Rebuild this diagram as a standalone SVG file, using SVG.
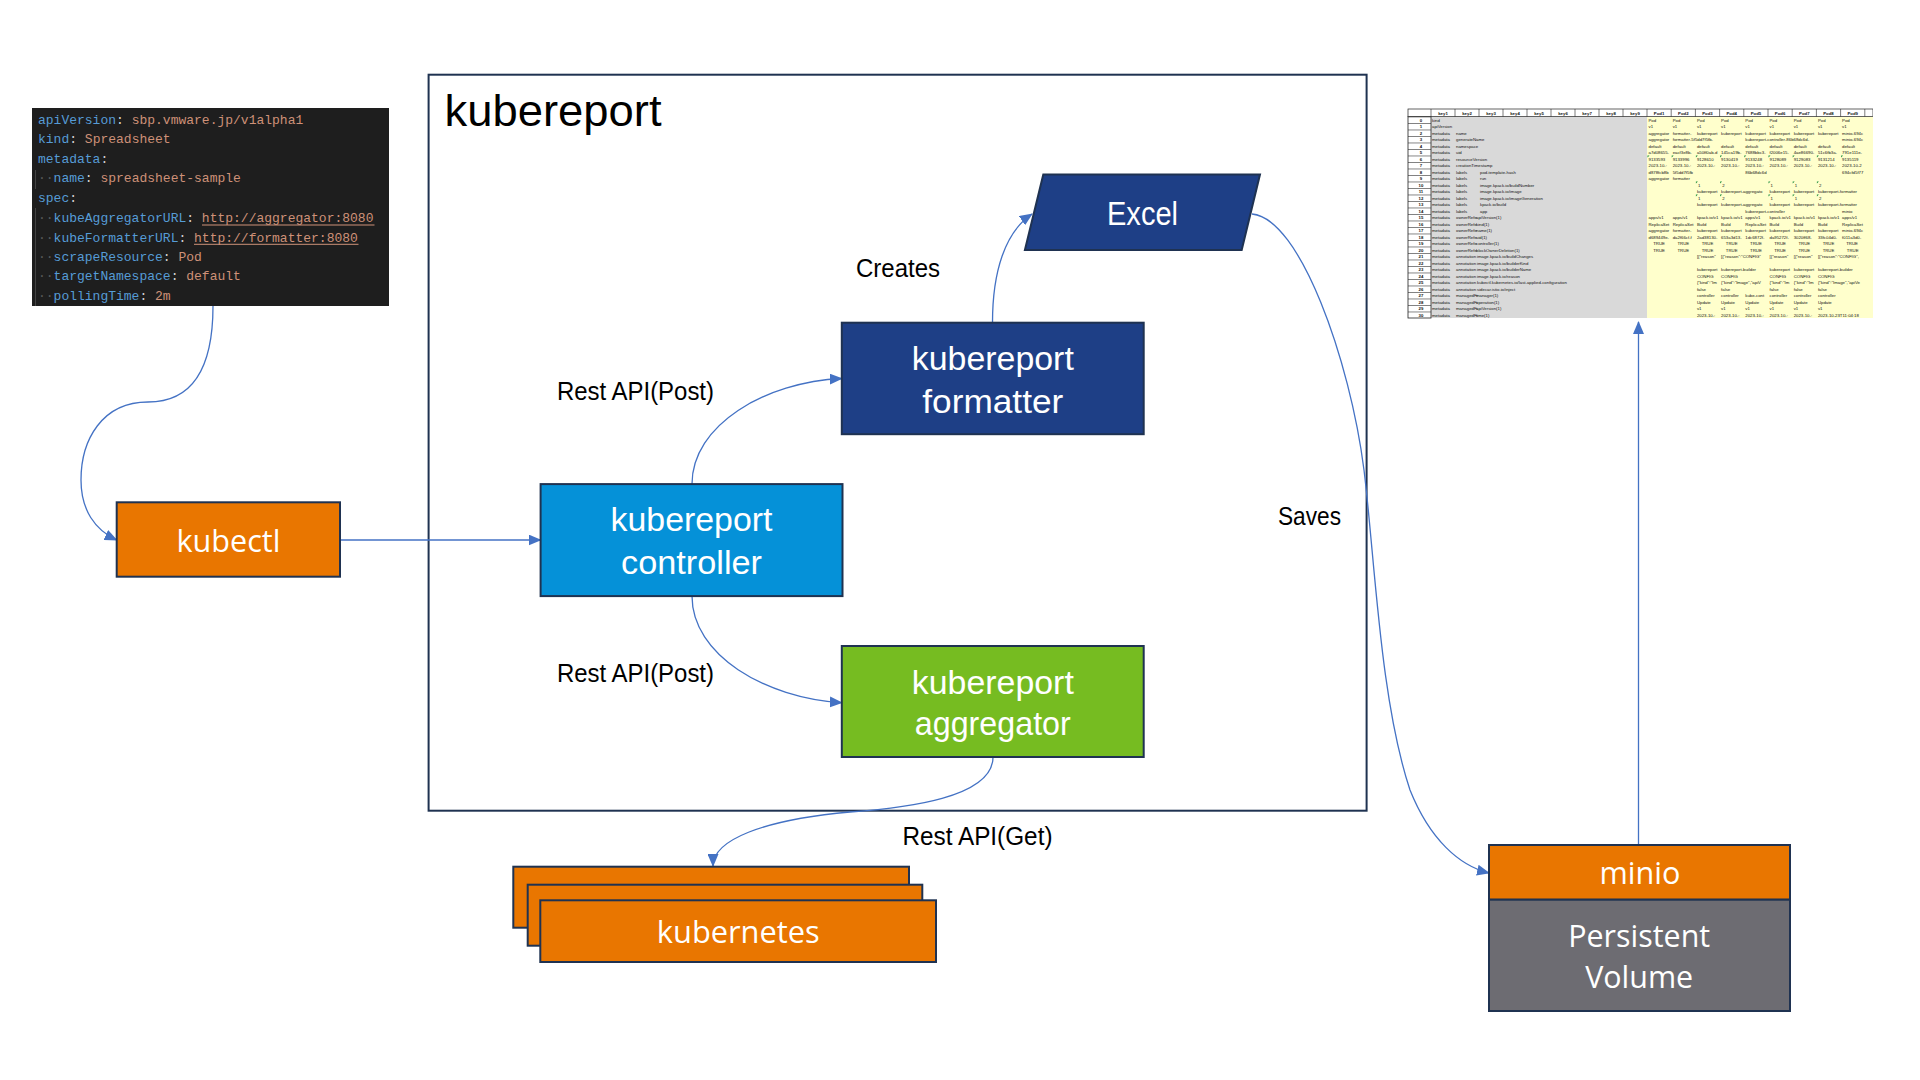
<svg xmlns="http://www.w3.org/2000/svg" width="1920" height="1080" viewBox="0 0 1920 1080">
<style>
.bg{fill:#ffffff}
.nd{stroke:#1F3251;stroke-width:2}
.wt{fill:#ffffff;font-family:"Liberation Sans",Arial,sans-serif;font-size:33px;text-anchor:middle}
.ws{fill:#ffffff;font-family:"Open Sans","Noto Sans",sans-serif;font-size:31px;text-anchor:middle}
.lb{fill:#000000;font-family:"Liberation Sans",Arial,sans-serif;font-size:25px}
.cn{fill:none;stroke:#4472C4;stroke-width:1.3}
.ym{font-family:"Liberation Mono","DejaVu Sans Mono",monospace;font-size:13px}
.k{fill:#569CD6}.p{fill:#D4D4D4}.v{fill:#CE9178}.g{fill:#5A5A5A}
.xs{font-family:"Liberation Sans",Arial,sans-serif;font-size:4.3px;fill:#111111}
.xh{font-family:"Liberation Sans",Arial,sans-serif;font-size:4.3px;font-weight:bold;fill:#111111;text-anchor:middle}
.xc{text-anchor:middle}
</style>
<defs>
<marker id="ar" markerUnits="userSpaceOnUse" markerWidth="13" markerHeight="11" refX="12" refY="5.5" orient="auto">
<path d="M0,0 L13,5.5 L0,11 z" fill="#4472C4"/>
</marker>
<pattern id="rn" patternUnits="userSpaceOnUse" x="1408" y="116.5" width="23" height="6.5">
<rect width="23" height="6.5" fill="#ffffff"/>
<line x1="0" y1="0.3" x2="23" y2="0.3" stroke="#222" stroke-width="0.7"/>
</pattern>
<clipPath id="sc"><rect x="1407" y="108" width="466" height="212"/></clipPath>
</defs>
<rect class="bg" x="0" y="0" width="1920" height="1080"/>

<!-- container -->
<g id="kubereport-container">
<rect x="428.6" y="74.7" width="938" height="736" fill="#ffffff" stroke="#1F3251" stroke-width="2"/>
<text x="444.5" y="126" font-family="Liberation Sans, Arial, sans-serif" font-size="44" fill="#000" textLength="217" lengthAdjust="spacingAndGlyphs">kubereport</text>
</g>

<!-- YAML -->
<g id="yaml">
<rect x="32" y="108" width="357" height="198" fill="#1E1E1E"/>
<line x1="35.5" y1="170" x2="35.5" y2="189" stroke="#444" stroke-width="1"/>
<line x1="35.5" y1="208" x2="35.5" y2="306" stroke="#444" stroke-width="1"/>
<text class="ym" xml:space="preserve" x="38" y="124"><tspan class="k">apiVersion</tspan><tspan class="p">: </tspan><tspan class="v">sbp.vmware.jp/v1alpha1</tspan></text>
<text class="ym" xml:space="preserve" x="38" y="143.3"><tspan class="k">kind</tspan><tspan class="p">: </tspan><tspan class="v">Spreadsheet</tspan></text>
<text class="ym" xml:space="preserve" x="38" y="162.6"><tspan class="k">metadata</tspan><tspan class="p">:</tspan></text>
<text class="ym" xml:space="preserve" x="38" y="182.3"><tspan class="g">··</tspan><tspan class="k">name</tspan><tspan class="p">: </tspan><tspan class="v">spreadsheet-sample</tspan></text>
<text class="ym" xml:space="preserve" x="38" y="202.3"><tspan class="k">spec</tspan><tspan class="p">:</tspan></text>
<text class="ym" xml:space="preserve" x="38" y="222.3"><tspan class="g">··</tspan><tspan class="k">kubeAggregatorURL</tspan><tspan class="p">: </tspan><tspan class="v">http://aggregator:8080</tspan></text>
<text class="ym" xml:space="preserve" x="38" y="241.6"><tspan class="g">··</tspan><tspan class="k">kubeFormatterURL</tspan><tspan class="p">: </tspan><tspan class="v">http://formatter:8080</tspan></text>
<text class="ym" xml:space="preserve" x="38" y="261"><tspan class="g">··</tspan><tspan class="k">scrapeResource</tspan><tspan class="p">: </tspan><tspan class="v">Pod</tspan></text>
<text class="ym" xml:space="preserve" x="38" y="280.3"><tspan class="g">··</tspan><tspan class="k">targetNamespace</tspan><tspan class="p">: </tspan><tspan class="v">default</tspan></text>
<text class="ym" xml:space="preserve" x="38" y="300.3"><tspan class="g">··</tspan><tspan class="k">pollingTime</tspan><tspan class="p">: </tspan><tspan class="v">2m</tspan></text>
<line x1="202" y1="225" x2="374.5" y2="225" stroke="#CE9178" stroke-width="1"/>
<line x1="194" y1="244.3" x2="358.5" y2="244.3" stroke="#CE9178" stroke-width="1"/>
</g>

<!-- Spreadsheet -->
<g id="spreadsheet" clip-path="url(#sc)">
<rect x="1408" y="109" width="465" height="209" fill="#ffffff"/>
<rect x="1431" y="116.5" width="216" height="201.5" fill="#D9D9D9"/>
<rect x="1647" y="116.5" width="226" height="201.5" fill="#FFFFCC"/>
<rect x="1408" y="116.5" width="23" height="201.5" fill="url(#rn)" stroke="#222" stroke-width="0.8"/>
<rect x="1408" y="109" width="465" height="7.5" fill="#ffffff" stroke="#222" stroke-width="0.7"/>
<path d="M1431,109v7.5M1455,109v7.5M1479,109v7.5M1503,109v7.5M1527,109v7.5M1551,109v7.5M1575,109v7.5M1599,109v7.5M1623,109v7.5M1647,109v7.5M1671.2,109v7.5M1695.4,109v7.5M1719.6,109v7.5M1743.8,109v7.5M1768,109v7.5M1792.2,109v7.5M1816.4,109v7.5M1840.6,109v7.5M1864.8,109v7.5" stroke="#222" stroke-width="0.6"/>
<text class="xh" y="114.5"><tspan x="1443">key1</tspan><tspan x="1467">key2</tspan><tspan x="1491">key3</tspan><tspan x="1515">key4</tspan><tspan x="1539">key5</tspan><tspan x="1563">key6</tspan><tspan x="1587">key7</tspan><tspan x="1611">key8</tspan><tspan x="1635">key9</tspan><tspan x="1659.1">Pod1</tspan><tspan x="1683.3">Pod2</tspan><tspan x="1707.5">Pod3</tspan><tspan x="1731.7">Pod4</tspan><tspan x="1755.9">Pod5</tspan><tspan x="1780.1">Pod6</tspan><tspan x="1804.3">Pod7</tspan><tspan x="1828.5">Pod8</tspan><tspan x="1852.7">Pod9</tspan></text>
<text class="xh"><tspan x="1421" y="121.5">0</tspan><tspan x="1421" y="128">1</tspan><tspan x="1421" y="134.5">2</tspan><tspan x="1421" y="141">3</tspan><tspan x="1421" y="147.5">4</tspan><tspan x="1421" y="154">5</tspan><tspan x="1421" y="160.5">6</tspan><tspan x="1421" y="167">7</tspan><tspan x="1421" y="173.5">8</tspan><tspan x="1421" y="180">9</tspan><tspan x="1421" y="186.5">10</tspan><tspan x="1421" y="193">11</tspan><tspan x="1421" y="199.5">12</tspan><tspan x="1421" y="206">13</tspan><tspan x="1421" y="212.5">14</tspan><tspan x="1421" y="219">15</tspan><tspan x="1421" y="225.5">16</tspan><tspan x="1421" y="232">17</tspan><tspan x="1421" y="238.5">18</tspan><tspan x="1421" y="245">19</tspan><tspan x="1421" y="251.5">20</tspan><tspan x="1421" y="258">21</tspan><tspan x="1421" y="264.5">22</tspan><tspan x="1421" y="271">23</tspan><tspan x="1421" y="277.5">24</tspan><tspan x="1421" y="284">25</tspan><tspan x="1421" y="290.5">26</tspan><tspan x="1421" y="297">27</tspan><tspan x="1421" y="303.5">28</tspan><tspan x="1421" y="310">29</tspan><tspan x="1421" y="316.5">30</tspan></text>
<!-- key columns -->
<text class="xs">
<tspan x="1432" y="121.5">kind</tspan>
<tspan x="1432" y="128">apiVersion</tspan>
<tspan x="1432" y="134.5">metadata</tspan><tspan x="1456" y="134.5">name</tspan>
<tspan x="1432" y="141">metadata</tspan><tspan x="1456" y="141">generateName</tspan>
<tspan x="1432" y="147.5">metadata</tspan><tspan x="1456" y="147.5">namespace</tspan>
<tspan x="1432" y="154">metadata</tspan><tspan x="1456" y="154">uid</tspan>
<tspan x="1432" y="160.5">metadata</tspan><tspan x="1456" y="160.5">resourceVersion</tspan>
<tspan x="1432" y="167">metadata</tspan><tspan x="1456" y="167">creationTimestamp</tspan>
<tspan x="1432" y="173.5">metadata</tspan><tspan x="1456" y="173.5">labels</tspan><tspan x="1480" y="173.5">pod-template-hash</tspan>
<tspan x="1432" y="180">metadata</tspan><tspan x="1456" y="180">labels</tspan><tspan x="1480" y="180">run</tspan>
<tspan x="1432" y="186.5">metadata</tspan><tspan x="1456" y="186.5">labels</tspan><tspan x="1480" y="186.5">image.kpack.io/buildNumber</tspan>
<tspan x="1432" y="193">metadata</tspan><tspan x="1456" y="193">labels</tspan><tspan x="1480" y="193">image.kpack.io/image</tspan>
<tspan x="1432" y="199.5">metadata</tspan><tspan x="1456" y="199.5">labels</tspan><tspan x="1480" y="199.5">image.kpack.io/imageGeneration</tspan>
<tspan x="1432" y="206">metadata</tspan><tspan x="1456" y="206">labels</tspan><tspan x="1480" y="206">kpack.io/build</tspan>
<tspan x="1432" y="212.5">metadata</tspan><tspan x="1456" y="212.5">labels</tspan><tspan x="1480" y="212.5">app</tspan>
<tspan x="1432" y="219">metadata</tspan><tspan x="1456" y="219">ownerRefe</tspan><tspan x="1476" y="219">apiVersion(1)</tspan>
<tspan x="1432" y="225.5">metadata</tspan><tspan x="1456" y="225.5">ownerRefe</tspan><tspan x="1476" y="225.5">kind(1)</tspan>
<tspan x="1432" y="232">metadata</tspan><tspan x="1456" y="232">ownerRefe</tspan><tspan x="1476" y="232">name(1)</tspan>
<tspan x="1432" y="238.5">metadata</tspan><tspan x="1456" y="238.5">ownerRefe</tspan><tspan x="1476" y="238.5">uid(1)</tspan>
<tspan x="1432" y="245">metadata</tspan><tspan x="1456" y="245">ownerRefe</tspan><tspan x="1476" y="245">controller(1)</tspan>
<tspan x="1432" y="251.5">metadata</tspan><tspan x="1456" y="251.5">ownerRefe</tspan><tspan x="1476" y="251.5">blockOwnerDeletion(1)</tspan>
<tspan x="1432" y="258">metadata</tspan><tspan x="1456" y="258">annotation</tspan><tspan x="1477" y="258">image.kpack.io/buildChanges</tspan>
<tspan x="1432" y="264.5">metadata</tspan><tspan x="1456" y="264.5">annotation</tspan><tspan x="1477" y="264.5">image.kpack.io/builderKind</tspan>
<tspan x="1432" y="271">metadata</tspan><tspan x="1456" y="271">annotation</tspan><tspan x="1477" y="271">image.kpack.io/builderName</tspan>
<tspan x="1432" y="277.5">metadata</tspan><tspan x="1456" y="277.5">annotation</tspan><tspan x="1477" y="277.5">image.kpack.io/reason</tspan>
<tspan x="1432" y="284">metadata</tspan><tspan x="1456" y="284">annotation</tspan><tspan x="1477" y="284">kubectl.kubernetes.io/last-applied-configuration</tspan>
<tspan x="1432" y="290.5">metadata</tspan><tspan x="1456" y="290.5">annotation</tspan><tspan x="1477" y="290.5">sidecar.istio.io/inject</tspan>
<tspan x="1432" y="297">metadata</tspan><tspan x="1456" y="297">managedFi</tspan><tspan x="1476" y="297">manager(1)</tspan>
<tspan x="1432" y="303.5">metadata</tspan><tspan x="1456" y="303.5">managedFi</tspan><tspan x="1476" y="303.5">operation(1)</tspan>
<tspan x="1432" y="310">metadata</tspan><tspan x="1456" y="310">managedFi</tspan><tspan x="1476" y="310">apiVersion(1)</tspan>
<tspan x="1432" y="316.5">metadata</tspan><tspan x="1456" y="316.5">managedFi</tspan><tspan x="1476" y="316.5">time(1)</tspan>
</text>
<!-- pod columns -->
<text class="xs">
<tspan y="121.5" x="1648.5">Pod</tspan><tspan y="121.5" x="1672.7">Pod</tspan><tspan y="121.5" x="1696.9">Pod</tspan><tspan y="121.5" x="1721.1">Pod</tspan><tspan y="121.5" x="1745.3">Pod</tspan><tspan y="121.5" x="1769.5">Pod</tspan><tspan y="121.5" x="1793.7">Pod</tspan><tspan y="121.5" x="1817.9">Pod</tspan><tspan y="121.5" x="1842.1">Pod</tspan>
<tspan y="128" x="1648.5">v1</tspan><tspan y="128" x="1672.7">v1</tspan><tspan y="128" x="1696.9">v1</tspan><tspan y="128" x="1721.1">v1</tspan><tspan y="128" x="1745.3">v1</tspan><tspan y="128" x="1769.5">v1</tspan><tspan y="128" x="1793.7">v1</tspan><tspan y="128" x="1817.9">v1</tspan><tspan y="128" x="1842.1">v1</tspan>
<tspan y="134.5" x="1648.5">aggregator</tspan><tspan y="134.5" x="1672.7">formatter-</tspan><tspan y="134.5" x="1696.9">kubereport</tspan><tspan y="134.5" x="1721.1">kubereport</tspan><tspan y="134.5" x="1745.3">kubereport</tspan><tspan y="134.5" x="1769.5">kubereport</tspan><tspan y="134.5" x="1793.7">kubereport</tspan><tspan y="134.5" x="1817.9">kubereport</tspan><tspan y="134.5" x="1842.1">minio-694c</tspan>
<tspan y="141" x="1648.5">aggregator</tspan><tspan y="141" x="1672.7">formatter-5f5dd7f5fb-</tspan><tspan y="141" x="1745.3">kubereport-controller-86b68dc6d-</tspan><tspan y="141" x="1842.1">minio-694c</tspan>
<tspan y="147.5" x="1648.5">default</tspan><tspan y="147.5" x="1672.7">default</tspan><tspan y="147.5" x="1696.9">default</tspan><tspan y="147.5" x="1721.1">default</tspan><tspan y="147.5" x="1745.3">default</tspan><tspan y="147.5" x="1769.5">default</tspan><tspan y="147.5" x="1793.7">default</tspan><tspan y="147.5" x="1817.9">default</tspan><tspan y="147.5" x="1842.1">default</tspan>
<tspan y="154" x="1648.5">a7d08655-</tspan><tspan y="154" x="1672.7">eacf3e8b-</tspan><tspan y="154" x="1696.9">a50ff0ab-d</tspan><tspan y="154" x="1721.1">145ca19b-</tspan><tspan y="154" x="1745.3">7688bbc3-</tspan><tspan y="154" x="1769.5">f2006e15-</tspan><tspan y="154" x="1793.7">4ae86690-</tspan><tspan y="154" x="1817.9">51c6fb3a-</tspan><tspan y="154" x="1842.1">791e111e-</tspan>
<tspan y="160.5" x="1648.5">9133593</tspan><tspan y="160.5" x="1672.7">9133996</tspan><tspan y="160.5" x="1696.9">9128610</tspan><tspan y="160.5" x="1721.1">9130419</tspan><tspan y="160.5" x="1745.3">9133248</tspan><tspan y="160.5" x="1769.5">9128089</tspan><tspan y="160.5" x="1793.7">9129083</tspan><tspan y="160.5" x="1817.9">9131214</tspan><tspan y="160.5" x="1842.1">9135119</tspan>
<tspan y="167" x="1648.5">2023-10-:</tspan><tspan y="167" x="1672.7">2023-10-:</tspan><tspan y="167" x="1696.9">2023-10-:</tspan><tspan y="167" x="1721.1">2023-10-:</tspan><tspan y="167" x="1745.3">2023-10-:</tspan><tspan y="167" x="1769.5">2023-10-:</tspan><tspan y="167" x="1793.7">2023-10-:</tspan><tspan y="167" x="1817.9">2023-10-:</tspan><tspan y="167" x="1842.1">2023-10-2</tspan>
<tspan y="173.5" x="1648.5">d878fcb8b</tspan><tspan y="173.5" x="1672.7">5f5dd7f5fb</tspan><tspan y="173.5" x="1745.3">86b68dc6d</tspan><tspan y="173.5" x="1842.1">694cfd5f77</tspan>
<tspan y="180" x="1648.5">aggregator</tspan><tspan y="180" x="1672.7">formatter</tspan>
<tspan y="186.5" x="1698">1</tspan><tspan y="186.5" x="1722.2">2</tspan><tspan y="186.5" x="1770.6">1</tspan><tspan y="186.5" x="1794.8">1</tspan><tspan y="186.5" x="1819">2</tspan>
<tspan y="193" x="1696.9">kubereport</tspan><tspan y="193" x="1721.1">kubereport-aggregato</tspan><tspan y="193" x="1769.5">kubereport</tspan><tspan y="193" x="1793.7">kubereport</tspan><tspan y="193" x="1817.9">kubereport-formatter</tspan>
<tspan y="199.5" x="1698">1</tspan><tspan y="199.5" x="1722.2">2</tspan><tspan y="199.5" x="1770.6">1</tspan><tspan y="199.5" x="1794.8">1</tspan><tspan y="199.5" x="1819">2</tspan>
<tspan y="206" x="1696.9">kubereport</tspan><tspan y="206" x="1721.1">kubereport-aggregato</tspan><tspan y="206" x="1769.5">kubereport</tspan><tspan y="206" x="1793.7">kubereport</tspan><tspan y="206" x="1817.9">kubereport-formatter</tspan>
<tspan y="212.5" x="1745.3">kubereport-controller</tspan><tspan y="212.5" x="1842.1">minio</tspan>
<tspan y="219" x="1648.5">apps/v1</tspan><tspan y="219" x="1672.7">apps/v1</tspan><tspan y="219" x="1696.9">kpack.io/v1</tspan><tspan y="219" x="1721.1">kpack.io/v1</tspan><tspan y="219" x="1745.3">apps/v1</tspan><tspan y="219" x="1769.5">kpack.io/v1</tspan><tspan y="219" x="1793.7">kpack.io/v1</tspan><tspan y="219" x="1817.9">kpack.io/v1</tspan><tspan y="219" x="1842.1">apps/v1</tspan>
<tspan y="225.5" x="1648.5">ReplicaSet</tspan><tspan y="225.5" x="1672.7">ReplicaSet</tspan><tspan y="225.5" x="1696.9">Build</tspan><tspan y="225.5" x="1721.1">Build</tspan><tspan y="225.5" x="1745.3">ReplicaSet</tspan><tspan y="225.5" x="1769.5">Build</tspan><tspan y="225.5" x="1793.7">Build</tspan><tspan y="225.5" x="1817.9">Build</tspan><tspan y="225.5" x="1842.1">ReplicaSet</tspan>
<tspan y="232" x="1648.5">aggregator</tspan><tspan y="232" x="1672.7">formatter-</tspan><tspan y="232" x="1696.9">kubereport</tspan><tspan y="232" x="1721.1">kubereport</tspan><tspan y="232" x="1745.3">kubereport</tspan><tspan y="232" x="1769.5">kubereport</tspan><tspan y="232" x="1793.7">kubereport</tspan><tspan y="232" x="1817.9">kubereport</tspan><tspan y="232" x="1842.1">minio-694c</tspan>
<tspan y="238.5" x="1648.5">d689449e-</tspan><tspan y="238.5" x="1672.7">da2f66cf-f</tspan><tspan y="238.5" x="1696.9">2ad38130-</tspan><tspan y="238.5" x="1721.1">653a3d13-</tspan><tspan y="238.5" x="1745.3">1dc6872f-</tspan><tspan y="238.5" x="1769.5">da95272f-</tspan><tspan y="238.5" x="1793.7">3020ff68-</tspan><tspan y="238.5" x="1817.9">33fc04d0-</tspan><tspan y="238.5" x="1842.1">f011a3d0-</tspan>
<tspan y="258" x="1696.9">[{"reason"</tspan><tspan y="258" x="1721.1">[{"reason":"CONFIG"</tspan><tspan y="258" x="1769.5">[{"reason"</tspan><tspan y="258" x="1793.7">[{"reason"</tspan><tspan y="258" x="1817.9">[{"reason":"CONFIG",</tspan>
<tspan y="271" x="1696.9">kubereport</tspan><tspan y="271" x="1721.1">kubereport-builder</tspan><tspan y="271" x="1769.5">kubereport</tspan><tspan y="271" x="1793.7">kubereport</tspan><tspan y="271" x="1817.9">kubereport-builder</tspan>
<tspan y="277.5" x="1696.9">CONFIG</tspan><tspan y="277.5" x="1721.1">CONFIG</tspan><tspan y="277.5" x="1769.5">CONFIG</tspan><tspan y="277.5" x="1793.7">CONFIG</tspan><tspan y="277.5" x="1817.9">CONFIG</tspan>
<tspan y="284" x="1696.9">{"kind":"Im</tspan><tspan y="284" x="1721.1">{"kind":"Image","apiV</tspan><tspan y="284" x="1769.5">{"kind":"Im</tspan><tspan y="284" x="1793.7">{"kind":"Im</tspan><tspan y="284" x="1817.9">{"kind":"Image","apiVe</tspan>
<tspan y="290.5" x="1696.9">false</tspan><tspan y="290.5" x="1721.1">false</tspan><tspan y="290.5" x="1769.5">false</tspan><tspan y="290.5" x="1793.7">false</tspan><tspan y="290.5" x="1817.9">false</tspan>
<tspan y="297" x="1696.9">controller</tspan><tspan y="297" x="1721.1">controller</tspan><tspan y="297" x="1745.3">kube-cont</tspan><tspan y="297" x="1769.5">controller</tspan><tspan y="297" x="1793.7">controller</tspan><tspan y="297" x="1817.9">controller</tspan>
<tspan y="303.5" x="1696.9">Update</tspan><tspan y="303.5" x="1721.1">Update</tspan><tspan y="303.5" x="1745.3">Update</tspan><tspan y="303.5" x="1769.5">Update</tspan><tspan y="303.5" x="1793.7">Update</tspan><tspan y="303.5" x="1817.9">Update</tspan>
<tspan y="310" x="1696.9">v1</tspan><tspan y="310" x="1721.1">v1</tspan><tspan y="310" x="1745.3">v1</tspan><tspan y="310" x="1769.5">v1</tspan><tspan y="310" x="1793.7">v1</tspan><tspan y="310" x="1817.9">v1</tspan>
<tspan y="316.5" x="1696.9">2023-10-:</tspan><tspan y="316.5" x="1721.1">2023-10-:</tspan><tspan y="316.5" x="1745.3">2023-10-:</tspan><tspan y="316.5" x="1769.5">2023-10-:</tspan><tspan y="316.5" x="1793.7">2023-10-:</tspan><tspan y="316.5" x="1817.9">2023-10-23T11:04:18</tspan>
</text>
<text class="xs xc">
<tspan y="245" x="1659.1">TRUE</tspan><tspan y="245" x="1683.3">TRUE</tspan><tspan y="245" x="1707.5">TRUE</tspan><tspan y="245" x="1731.7">TRUE</tspan><tspan y="245" x="1755.9">TRUE</tspan><tspan y="245" x="1780.1">TRUE</tspan><tspan y="245" x="1804.3">TRUE</tspan><tspan y="245" x="1828.5">TRUE</tspan><tspan y="245" x="1852.7">TRUE</tspan>
<tspan y="251.5" x="1659.1">TRUE</tspan><tspan y="251.5" x="1683.3">TRUE</tspan><tspan y="251.5" x="1707.5">TRUE</tspan><tspan y="251.5" x="1731.7">TRUE</tspan><tspan y="251.5" x="1755.9">TRUE</tspan><tspan y="251.5" x="1780.1">TRUE</tspan><tspan y="251.5" x="1804.3">TRUE</tspan><tspan y="251.5" x="1828.5">TRUE</tspan><tspan y="251.5" x="1852.7">TRUE</tspan>
</text>
<g fill="#1E8E3E">
<path d="M1647.5,155.6h2l-2,2z M1671.7,155.6h2l-2,2z M1695.9,155.6h2l-2,2z M1720.1,155.6h2l-2,2z M1744.3,155.6h2l-2,2z M1768.5,155.6h2l-2,2z M1792.7,155.6h2l-2,2z M1816.9,155.6h2l-2,2z M1841.1,155.6h2l-2,2z"/>
<path d="M1695.9,181.5h2l-2,2z M1720.1,181.5h2l-2,2z M1768.5,181.5h2l-2,2z M1792.7,181.5h2l-2,2z M1816.9,181.5h2l-2,2z M1695.9,194.5h2l-2,2z M1720.1,194.5h2l-2,2z M1768.5,194.5h2l-2,2z M1792.7,194.5h2l-2,2z M1816.9,194.5h2l-2,2z"/>
</g>
</g>

<!-- connectors -->
<g id="connectors">
<path class="cn" marker-end="url(#ar)" d="M213,306 C213,365 195,402 148,402 C102,402 81,440 81,480 C81,510 95,530 116.7,540"/>
<path class="cn" marker-end="url(#ar)" d="M340,540 H540.6"/>
<path class="cn" marker-end="url(#ar)" d="M692,484 C692,425 765,382 841.8,378.5"/>
<path class="cn" marker-end="url(#ar)" d="M692,596 C692,655 765,698 841.8,702.7"/>
<path class="cn" marker-end="url(#ar)" d="M992.5,322.7 C992.5,272 1005,232 1032,214"/>
<path class="cn" marker-end="url(#ar)" d="M1252,214 C1300,218 1350,360 1364,470 C1375,560 1380,700 1410,790 C1430,840 1460,866 1489,873"/>
<path class="cn" marker-end="url(#ar)" d="M993,757 C993,798 905,808 850,812 C762,820 713,840 713,866"/>
<path class="cn" marker-end="url(#ar)" d="M1638.5,845 V322"/>
</g>

<!-- labels -->
<g id="labels">
<text class="lb" x="856" y="277" textLength="84" lengthAdjust="spacingAndGlyphs">Creates</text>
<text class="lb" x="557" y="400" textLength="157" lengthAdjust="spacingAndGlyphs">Rest API(Post)</text>
<text class="lb" x="557" y="682" textLength="157" lengthAdjust="spacingAndGlyphs">Rest API(Post)</text>
<text class="lb" x="1278" y="525" textLength="63" lengthAdjust="spacingAndGlyphs">Saves</text>
<text class="lb" x="902.5" y="845" textLength="150" lengthAdjust="spacingAndGlyphs">Rest API(Get)</text>
</g>

<!-- nodes -->
<g id="kubectl">
<rect class="nd" x="116.7" y="502.3" width="223.3" height="74.4" fill="#E97600"/>
<text class="ws" x="228.5" y="551.5" textLength="104" lengthAdjust="spacingAndGlyphs">kubectl</text>
</g>
<g id="controller">
<rect class="nd" x="540.6" y="484.1" width="301.9" height="112" fill="#0591D8"/>
<text class="wt" x="691.5" y="531" textLength="162" lengthAdjust="spacingAndGlyphs">kubereport</text>
<text class="wt" x="691.5" y="573.5" textLength="141" lengthAdjust="spacingAndGlyphs">controller</text>
</g>
<g id="formatter">
<rect class="nd" x="841.8" y="322.7" width="301.9" height="111.5" fill="#1E3F86"/>
<text class="wt" x="992.8" y="370" textLength="162" lengthAdjust="spacingAndGlyphs">kubereport</text>
<text class="wt" x="992.8" y="412.5" textLength="141" lengthAdjust="spacingAndGlyphs">formatter</text>
</g>
<g id="aggregator">
<rect class="nd" x="841.8" y="646" width="301.9" height="111" fill="#76BC21"/>
<text class="wt" x="992.8" y="693.5" textLength="162" lengthAdjust="spacingAndGlyphs">kubereport</text>
<text class="wt" x="992.8" y="735" textLength="156" lengthAdjust="spacingAndGlyphs">aggregator</text>
</g>
<g id="excel">
<polygon class="nd" points="1043.3,174.4 1260,174.4 1241.7,250 1024.9,250" fill="#1E3F86"/>
<text class="wt" x="1142.5" y="225" textLength="71" lengthAdjust="spacingAndGlyphs">Excel</text>
</g>
<g id="kubernetes">
<rect class="nd" x="513.3" y="866.7" width="395.7" height="61" fill="#E97600"/>
<rect class="nd" x="527.7" y="884.7" width="394.6" height="61" fill="#E97600"/>
<rect class="nd" x="540.3" y="900.3" width="395.7" height="61.7" fill="#E97600"/>
<text class="ws" x="738.3" y="943.3" textLength="163" lengthAdjust="spacingAndGlyphs">kubernetes</text>
</g>
<g id="minio">
<rect class="nd" x="1489" y="845" width="301" height="54.7" fill="#E97600"/>
<text class="ws" x="1640" y="884.3" textLength="81" lengthAdjust="spacingAndGlyphs">minio</text>
</g>
<g id="persistent-volume">
<rect class="nd" x="1489" y="899.7" width="301" height="111.3" fill="#6D6C72"/>
<text class="ws" x="1639.2" y="946.7" textLength="142" lengthAdjust="spacingAndGlyphs">Persistent</text>
<text class="ws" x="1639.2" y="988.3" textLength="108" lengthAdjust="spacingAndGlyphs">Volume</text>
</g>
</svg>
